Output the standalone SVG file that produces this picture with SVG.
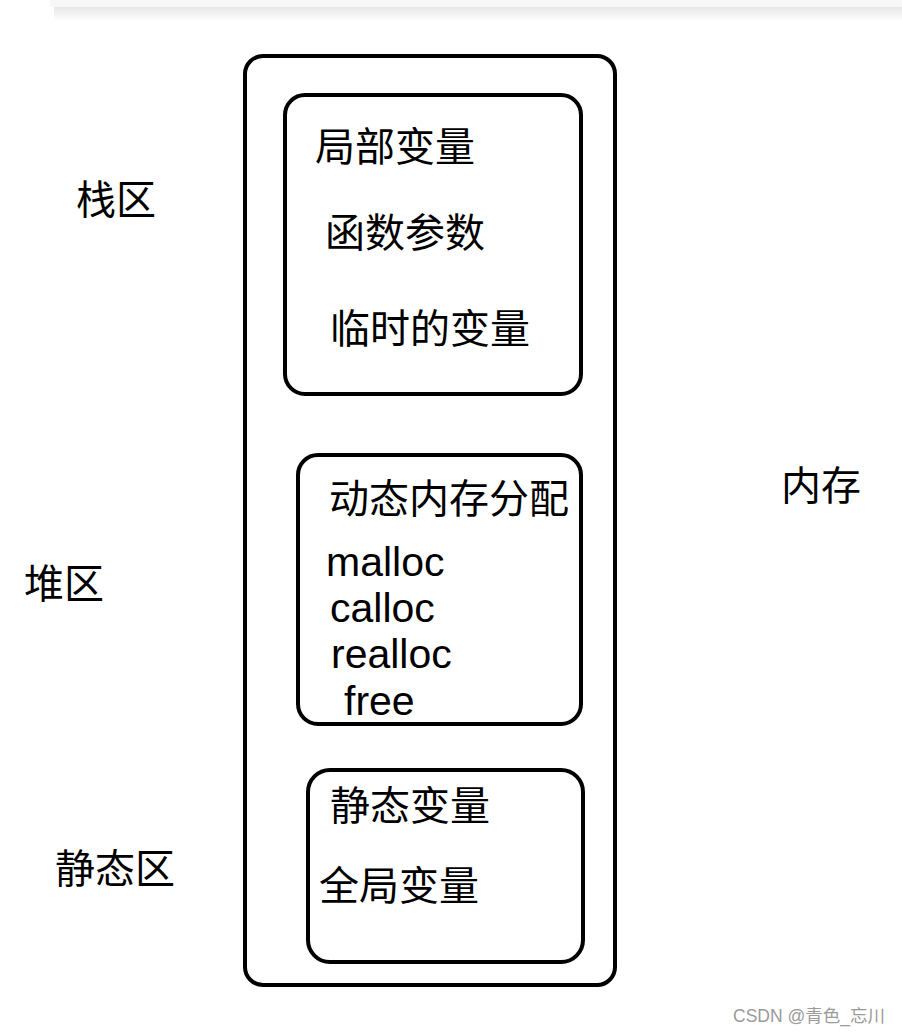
<svg xmlns="http://www.w3.org/2000/svg" width="902" height="1034" viewBox="0 0 902 1034">
<defs>
<linearGradient id="shadow" x1="0" y1="0" x2="0" y2="1">
<stop offset="0" stop-color="#e6e6e6"/>
<stop offset="1" stop-color="#ffffff"/>
</linearGradient>
</defs>
<style>
.box{fill:#ffffff;stroke:#000000;stroke-width:4}
.t{font-family:"Noto Sans CJK SC","Noto Sans",sans-serif;font-size:40px;fill:#000000}
.l{font-family:"Liberation Sans","Noto Sans CJK SC",sans-serif;font-size:41px;fill:#000000}
.wm{font-family:"Liberation Sans","Noto Sans CJK SC",sans-serif;font-size:17.5px;fill:#9a9a9a}
</style>
<rect x="0" y="0" width="902" height="1034" fill="#ffffff"/>
<g id="topbar">
<rect x="54" y="7" width="848" height="14" fill="url(#shadow)"/>
<rect x="50" y="0" width="852" height="7" fill="#f7f7f7"/>
</g>
<g id="connectors"/>
<g id="memory">
<rect class="box" x="245" y="56" width="370" height="929" rx="18" ry="18"/>
<text class="t" x="781" y="500">内存</text>
</g>
<g id="stack">
<rect class="box" x="285" y="95" width="296" height="299" rx="20" ry="20"/>
<text class="t" x="76" y="214">栈区</text>
<text class="t" x="315" y="161">局部变量</text>
<text class="t" x="325" y="247">函数参数</text>
<text class="t" x="330" y="343">临时的变量</text>
</g>
<g id="heap">
<rect class="box" x="298" y="455" width="283" height="269" rx="20" ry="20"/>
<text class="t" x="24" y="598">堆区</text>
<text class="t" x="329" y="513">动态内存分配</text>
<text class="l" x="326" y="576">malloc</text>
<text class="l" x="330" y="622">calloc</text>
<text class="l" x="331" y="668">realloc</text>
<text class="l" x="344" y="715">free</text>
</g>
<g id="static">
<rect class="box" x="308" y="770" width="275" height="192" rx="22" ry="22"/>
<text class="t" x="55" y="883">静态区</text>
<text class="t" x="330" y="820">静态变量</text>
<text class="t" x="319" y="900">全局变量</text>
</g>
<text class="wm" x="733" y="1022">CSDN @青色_忘川</text>
</svg>
